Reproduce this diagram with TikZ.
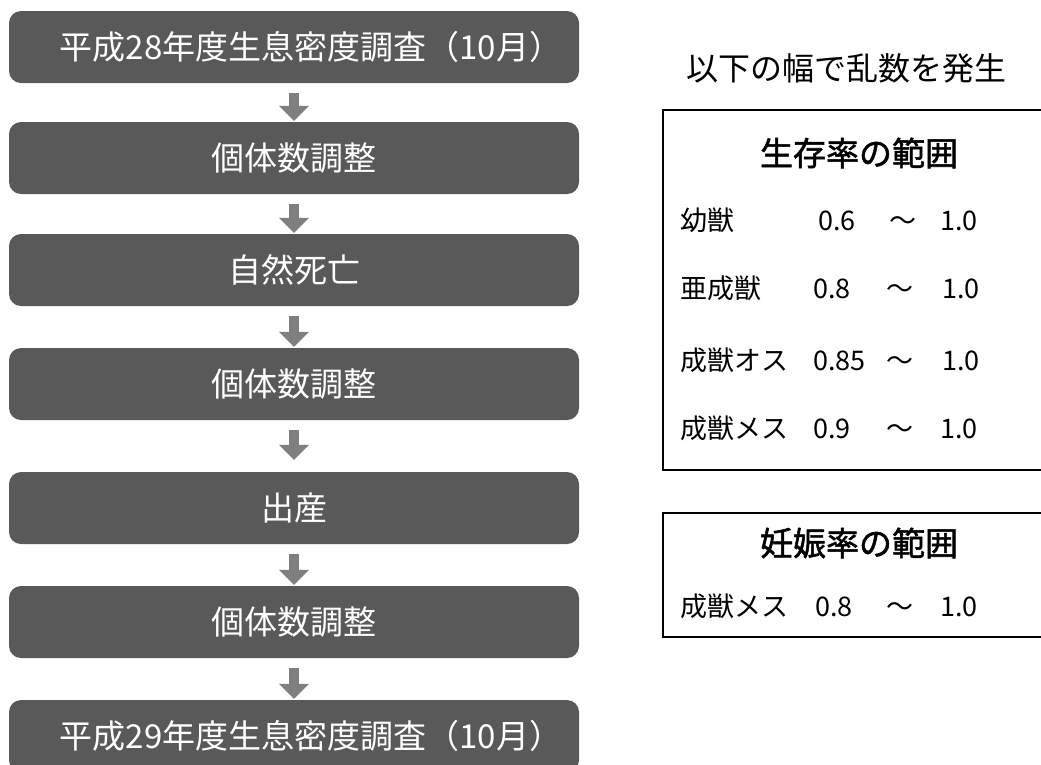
\documentclass[tikz,border=0pt]{standalone}
\usepackage{fontspec}
\setmainfont{Noto Sans CJK JP}
\newfontfamily\jpbold[FakeBold=1.6]{Noto Sans CJK JP}
\usetikzlibrary{arrows.meta}
\definecolor{boxgray}{HTML}{595959}
\definecolor{arrgray}{HTML}{7F7F7F}
\tikzset{
  flowbox/.style={fill=boxgray, rounded corners=12pt, minimum width=570pt, minimum height=72pt,
    text=white, inner sep=0pt, font=\fontsize{33pt}{40pt}\selectfont},
  flowarr/.style={draw=arrgray, line width=10pt, -{Triangle[width=29pt,length=15pt]},
    shorten <=10pt, shorten >=1pt},
  rowtext/.style={anchor=west, inner sep=0pt, text height=0.8em, text depth=0.1em,
    font=\fontsize{27pt}{32pt}\selectfont},
  rangebox/.style={draw=black, line width=2.5pt},
  boxtitle/.style={inner sep=0pt, font=\fontsize{33pt}{40pt}\jpbold},
}
\begin{document}
\begin{tikzpicture}[x=1pt, y=-1pt]
\useasboundingbox (0,0) rectangle (1041,764);
\clip (0,0) rectangle (1041,764);
% flow boxes
\node[flowbox] (b1) at (294,47) {\hspace*{34pt}平成28年度生息密度調査（10月）};
\node[flowbox] (b2) at (294,158) {個体数調整};
\node[flowbox] (b3) at (294,270) {自然死亡};
\node[flowbox] (b4) at (294,384) {個体数調整};
\node[flowbox] (b5) at (294,508) {出産};
\node[flowbox] (b6) at (294,622) {個体数調整};
\node[flowbox] (b7) at (294,736) {\hspace*{34pt}平成29年度生息密度調査（10月）};
\draw[flowarr] (b1) -- (b2);
\draw[flowarr] (b2) -- (b3);
\draw[flowarr] (b3) -- (b4);
\draw[flowarr, shorten >=12pt] (b4) -- (b5);
\draw[flowarr] (b5) -- (b6);
\draw[flowarr] (b6) -- (b7);
% right side
\node[inner sep=0pt, font=\fontsize{32pt}{38pt}\selectfont] (head) at (846,68) {以下の幅で乱数を発生};
\draw[rangebox] (663,110) rectangle (1048,470);
\node[boxtitle] (t1) at (859,153) {生存率の範囲};
\node[rowtext] (r1a) at (680,227) {幼獣};
\node[rowtext] (r1b) at (818,227) {0.6};
\node[rowtext] (r1c) at (889,227) {～};
\node[rowtext] (r1d) at (940,227) {1.0};
\node[rowtext] (r2a) at (680,295) {亜成獣};
\node[rowtext] (r2b) at (813,295) {0.8};
\node[rowtext] (r2c) at (886,295) {～};
\node[rowtext] (r2d) at (942,295) {1.0};
\node[rowtext] (r3a) at (680,367) {成獣オス};
\node[rowtext] (r3b) at (813,367) {0.85};
\node[rowtext] (r3c) at (886,367) {～};
\node[rowtext] (r3d) at (942,367) {1.0};
\node[rowtext] (r4a) at (680,435) {成獣メス};
\node[rowtext] (r4b) at (813,435) {0.9};
\node[rowtext] (r4c) at (886,435) {～};
\node[rowtext] (r4d) at (940,435) {1.0};
\draw[rangebox] (663,513) rectangle (1048,637);
\node[boxtitle] (t2) at (859,543) {妊娠率の範囲};
\node[rowtext] (r5a) at (680,613) {成獣メス};
\node[rowtext] (r5b) at (815,613) {0.8};
\node[rowtext] (r5c) at (886,613) {～};
\node[rowtext] (r5d) at (940,613) {1.0};
\end{tikzpicture}
\end{document}
